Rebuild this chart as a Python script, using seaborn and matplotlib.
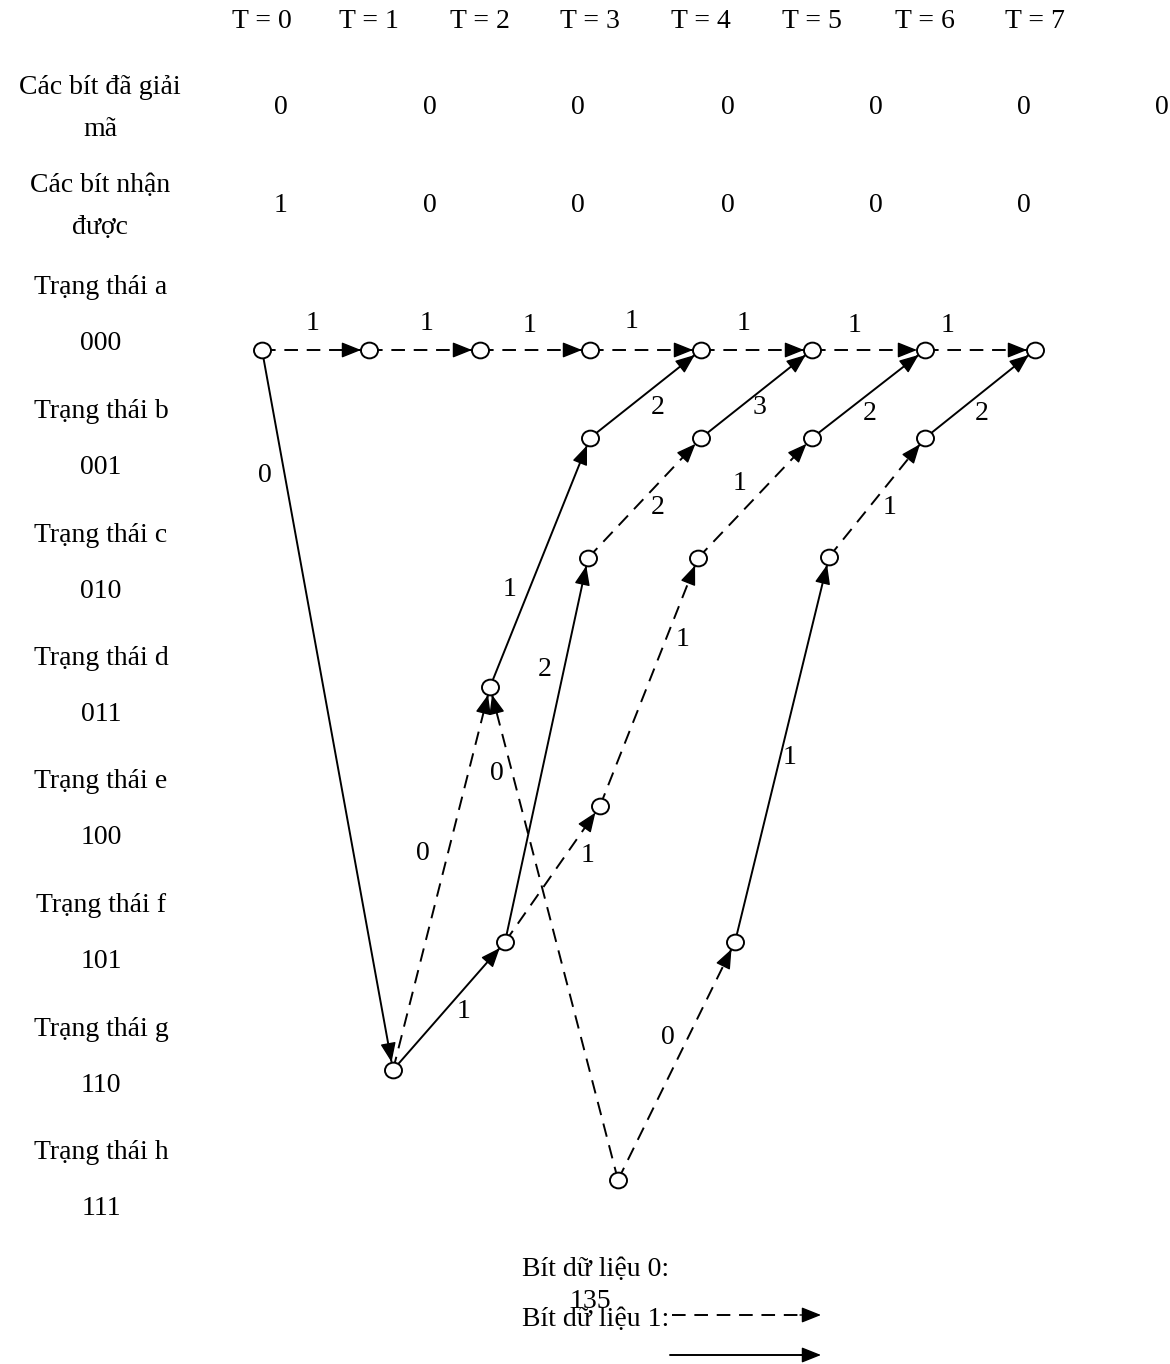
import numpy as np
import pandas as pd
import matplotlib
matplotlib.use("Agg")
import matplotlib.pyplot as plt
from matplotlib.path import Path
from matplotlib.transforms import Affine2D
import seaborn as sns

# ---------------- data ----------------
time_labels = ["T = 0", "T = 1", "T = 2", "T = 3", "T = 4", "T = 5", "T = 6", "T = 7"]
decoded_bits = ["0", "0", "0", "0", "0", "0", "0"]
received_bits = ["1", "0", "0", "0", "0", "0"]
state_names = ["Trạng thái a", "Trạng thái b", "Trạng thái c", "Trạng thái d",
               "Trạng thái e", "Trạng thái f", "Trạng thái g", "Trạng thái h"]
state_codes = ["000", "001", "010", "011", "100", "101", "110", "111"]

# trellis nodes (diagram coordinates, pixels)
node_ids = ["a0", "a1", "a2", "a3", "a4", "a5", "a6", "a7",
            "b3", "b4", "b5", "b6", "c3", "c4", "c5",
            "d2", "e4", "f2", "f5", "g1", "h3"]
node_x = [262, 369, 480, 590, 701, 812, 925, 1035,
          590, 701, 812, 925, 588, 698, 829,
          490, 600, 505, 735, 393, 618]
node_y = [350, 350, 350, 350, 350, 350, 350, 350,
          438, 438, 438, 438, 558, 558, 557,
          687, 806, 942, 942, 1070, 1180]

# edges: source, target, data bit (0 dashed, 1 solid), metric label
edge_src = ["a0", "a1", "a2", "a3", "a4", "a5", "a6",
            "a0", "g1", "g1", "h3", "d2", "f2", "f2", "e4", "c3",
            "b3", "b4", "c4", "b5", "b6", "c5", "f5", "h3"]
edge_dst = ["a1", "a2", "a3", "a4", "a5", "a6", "a7",
            "g1", "d2", "f2", "d2", "b3", "c3", "e4", "c4", "b4",
            "a4", "a5", "b5", "a6", "a7", "b6", "c5", "f5"]
edge_bit = [0, 0, 0, 0, 0, 0, 0,
            1, 0, 1, 0, 1, 1, 0, 0, 0,
            1, 1, 0, 1, 1, 0, 1, 0]
edge_label = ["1", "1", "1", "1", "1", "1", "1",
              "0", "0", "1", "0", "1", "2", "1", "1", "2",
              "2", "3", "1", "2", "2", "1", "1", "0"]
label_x = [313, 427, 530, 632, 744, 855, 948,
           265, 423, 464, 497, 510, 545, 588, 683, 658,
           658, 760, 740, 870, 982, 890, 790, 668]
label_y = [323, 323, 325, 322, 323, 325, 325,
           475, 853, 1012, 773, 590, 670, 855, 640, 508,
           407, 408, 483, 413, 413, 508, 757, 1037]

# ---------------- figure ----------------
sns.set_theme(style="white")
plt.rcParams["font.family"] = ["Liberation Serif", "DejaVu Serif"]
plt.rcParams["text.color"] = "black"

W, H = 1170, 1364
fig = plt.figure(figsize=(W / 100, H / 100), dpi=100)
ax = fig.add_axes([0, 0, 1, 1])

fs = 20
DASH = (7, 4.5)
HEAD = "-|>,head_length=0.6,head_width=0.24"

def set_frame():
    ax.set_xlim(0, W)
    ax.set_ylim(H, 0)
    ax.axis("off")

set_frame()

# header rows
col_x = node_x[:8]
for t, x in zip(time_labels, col_x):
    ax.text(x, 22, t, ha="center", va="center", fontsize=fs)

ax.text(100, 88, "Các bít đã giải", ha="center", va="center", fontsize=fs)
ax.text(100, 130, "mã", ha="center", va="center", fontsize=fs)
dec_x = [281, 430, 578, 728, 876, 1024, 1162]
for b, x in zip(decoded_bits, dec_x):
    ax.text(x, 108, b, ha="center", va="center", fontsize=fs)

ax.text(100, 185, "Các bít nhận", ha="center", va="center", fontsize=fs)
ax.text(100, 227, "được", ha="center", va="center", fontsize=fs)
for b, x in zip(received_bits, dec_x):
    ax.text(x, 205, b, ha="center", va="center", fontsize=fs)

# state labels
for i, (n, c) in enumerate(zip(state_names, state_codes)):
    y0 = 288 + i * 123.5
    ax.text(101, y0, n, ha="center", va="center", fontsize=fs)
    ax.text(101, y0 + 56, c, ha="center", va="center", fontsize=fs)

# edges as seaborn line segments
pos = {k: (x, y) for k, x, y in zip(node_ids, node_x, node_y)}
rows = []
for i, (s, d, b) in enumerate(zip(edge_src, edge_dst, edge_bit)):
    rows.append({"edge": i, "x": pos[s][0], "y": pos[s][1], "bit": b})
    rows.append({"edge": i, "x": pos[d][0], "y": pos[d][1], "bit": b})
seg = pd.DataFrame(rows)
sns.lineplot(data=seg, x="x", y="y", units="edge", style="bit", estimator=None,
             sort=False, dashes={0: DASH, 1: ""}, color="black",
             linewidth=1.4, legend=False, ax=ax, zorder=2)

# arrow heads
r_node = 8
for s, d in zip(edge_src, edge_dst):
    p0 = np.array(pos[s], float)
    p1 = np.array(pos[d], float)
    v = p1 - p0
    u = v / np.hypot(*v)
    tip = p1 - u * r_node
    base = tip - u * 17
    ax.annotate("", xy=tip, xytext=base,
                arrowprops=dict(arrowstyle=HEAD, mutation_scale=20, color="black",
                                lw=1.0, shrinkA=0, shrinkB=0), zorder=4)

# edge labels
for t, x, y in zip(edge_label, label_x, label_y):
    ax.text(x, y, t, ha="center", va="center", fontsize=fs, zorder=5)

# nodes
ell = Path.unit_circle().transformed(Affine2D().scale(1.08, 1.0))
nodes = pd.DataFrame({"x": node_x, "y": node_y})
sns.scatterplot(data=nodes, x="x", y="y", marker=ell, s=150, facecolor="white",
                edgecolor="black", linewidth=1.4, ax=ax, zorder=6)
set_frame()

# legend
ax.text(522, 1270, "Bít dữ liệu 0:", ha="left", va="center", fontsize=fs)
ax.text(590, 1302, "135", ha="center", va="center", fontsize=fs)
ax.text(522, 1320, "Bít dữ liệu 1:", ha="left", va="center", fontsize=fs)
leg = pd.DataFrame({"x": [672, 805, 670, 805], "y": [1315, 1315, 1355, 1355],
                    "bit": [0, 0, 1, 1], "edge": [0, 0, 1, 1]})
sns.lineplot(data=leg, x="x", y="y", units="edge", style="bit", estimator=None,
             sort=False, dashes={0: DASH, 1: ""}, color="black",
             linewidth=1.4, legend=False, ax=ax)
for yy in (1315, 1355):
    ax.annotate("", xy=(821, yy), xytext=(800, yy),
                arrowprops=dict(arrowstyle=HEAD, mutation_scale=20, color="black",
                                lw=1.0, shrinkA=0, shrinkB=0))
set_frame()

fig.savefig("out.png", dpi=100, facecolor="white")
